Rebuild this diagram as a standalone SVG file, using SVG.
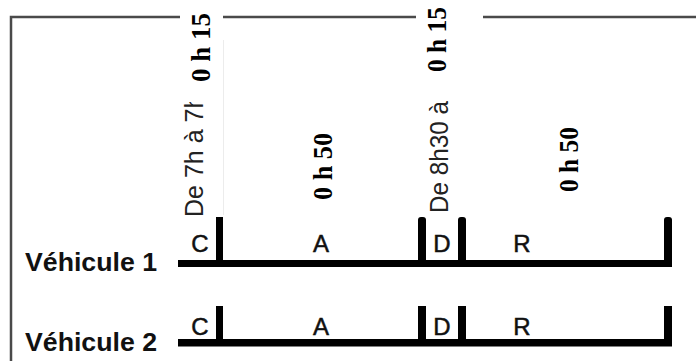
<svg xmlns="http://www.w3.org/2000/svg" width="696" height="361" viewBox="0 0 696 361">
  <style>
    .frame { stroke: #4a4a4a; stroke-width: 2.5; fill: none; }
    .dur { font-family: "Liberation Serif", "Times New Roman", serif; font-weight: bold; font-size: 27px; fill: #000; text-anchor: middle; }
    .time { font-family: "Liberation Sans", Arial, sans-serif; font-size: 25px; fill: #222; }
    .seg { font-family: "Liberation Sans", Arial, sans-serif; font-size: 24px; fill: #111; text-anchor: middle; stroke: #111; stroke-width: 0.5; }
    .veh { font-family: "Liberation Sans", Arial, sans-serif; font-weight: bold; font-size: 25px; fill: #111; }
    .bar { fill: #000; }
  </style>
  <defs>
    <clipPath id="clip1" clipPathUnits="userSpaceOnUse">
      <rect x="175" y="102" width="40" height="130"/>
    </clipPath>
  </defs>
  <rect width="696" height="361" fill="#fff"/>

  <g id="frame">
    <polyline class="frame" points="180,17 11,17 11,361"/>
    <line class="frame" x1="223" y1="17" x2="416" y2="17"/>
    <line class="frame" x1="483" y1="17" x2="696" y2="17"/>
    <line x1="223.5" y1="40" x2="223.5" y2="215" stroke="#ececec" stroke-width="1"/>
  </g>

  <g id="durations">
    <text class="dur" transform="translate(210,47.5) rotate(-90)" textLength="69" lengthAdjust="spacingAndGlyphs">0 h 15</text>
    <text class="dur" transform="translate(446,39.5) rotate(-90)" textLength="65" lengthAdjust="spacingAndGlyphs">0 h 15</text>
    <text class="dur" transform="translate(332,166.5) rotate(-90)" textLength="67" lengthAdjust="spacingAndGlyphs">0 h 50</text>
    <text class="dur" transform="translate(578,159.5) rotate(-90)" textLength="65" lengthAdjust="spacingAndGlyphs">0 h 50</text>
  </g>

  <g id="times">
    <g clip-path="url(#clip1)">
      <text class="time" transform="translate(203,217) rotate(-90)">De 7h à 7h15</text>
    </g>
    <text class="time" transform="translate(448,213) rotate(-90)" textLength="112" lengthAdjust="spacingAndGlyphs">De 8h30 à</text>
  </g>

  <g id="vehicule1">
    <text class="veh" x="25" y="271" textLength="132" lengthAdjust="spacingAndGlyphs">Véhicule 1</text>
    <rect class="bar" x="178" y="260" width="494" height="7"/>
    <rect class="bar" x="216" y="217" width="7" height="48"/>
    <rect class="bar" x="418" y="217" width="8" height="48" rx="3"/>
    <rect class="bar" x="458" y="217" width="8" height="48" rx="3"/>
    <rect class="bar" x="664" y="217" width="8" height="48" rx="3"/>
    <text class="seg" x="200" y="252">C</text>
    <text class="seg" x="321" y="252">A</text>
    <text class="seg" x="442" y="252">D</text>
    <text class="seg" x="522" y="252">R</text>
  </g>

  <g id="vehicule2">
    <text class="veh" x="25" y="351" textLength="132" lengthAdjust="spacingAndGlyphs">Véhicule 2</text>
    <rect class="bar" x="178" y="339" width="494" height="7.5"/>
    <rect class="bar" x="216" y="306" width="7" height="38"/>
    <rect class="bar" x="418" y="306" width="8" height="38"/>
    <rect class="bar" x="458" y="306" width="8" height="38"/>
    <rect class="bar" x="664" y="306" width="8" height="38"/>
    <text class="seg" x="200" y="335">C</text>
    <text class="seg" x="321" y="335">A</text>
    <text class="seg" x="442" y="335">D</text>
    <text class="seg" x="522" y="335">R</text>
  </g>

  <g id="connectors"></g>
</svg>
